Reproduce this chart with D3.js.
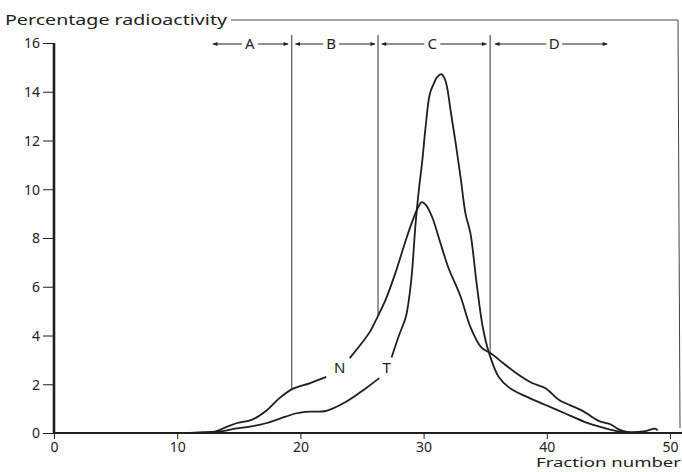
<!DOCTYPE html>
<html>
<head>
<meta charset="utf-8">
<script src="https://cdn.jsdelivr.net/npm/d3@7"></script>
<style>
  body { margin: 0; background: #fff; }
  svg text { font-family: "Noto Sans", "DejaVu Sans", sans-serif; fill: #222; }
</style>
</head>
<body>
<div id="chart"></div>
<script>
// fraction number (x) and percentage radioactivity (y)
// null marks the break in the line where the letter sits
var nFraction = [11, 12, 13.2, 14, 14.8, 16.1, 17.2, 18.3, 19.4, 20.8, 22.1, 23, 24, 25, 25.7, 26.1, 26.9, 27.7, 28.55, 29.1, 29.5, 29.85, 30.2, 30.7, 31.3, 32, 33, 33.8, 34.7, 35.5, 36.5, 37.5, 38.8, 39.9, 41, 42.8, 44.2, 45.2, 45.8, 46.5, 48, 48.8, 49];
var nValue    = [0, 0.02, 0.08, 0.25, 0.4, 0.55, 0.9, 1.43, 1.82, 2.05, 2.3, null, 3.07, 3.7, 4.2, 4.6, 5.45, 6.55, 7.9, 8.7, 9.2, 9.47, 9.35, 8.85, 7.9, 6.8, 5.6, 4.35, 3.5, 3.25, 2.85, 2.46, 2.05, 1.84, 1.35, 0.94, 0.5, 0.35, 0.16, 0.05, 0.08, 0.18, 0.1];

var tFraction = [11, 12.5, 13.7, 14.8, 15.9, 17.2, 18.8, 19.6, 20.4, 22.1, 23.7, 25.3, 26.4, 26.9, 27.4, 28, 28.55, 28.8, 29.05, 29.35, 29.6, 29.9, 30.15, 30.5, 30.8, 31.1, 31.45, 31.7, 31.9, 32.2, 32.6, 33, 33.4, 33.8, 34.3, 34.8, 35.3, 36.1, 37, 38.3, 39.9, 41.5, 43.1, 44.7, 45.5, 46.5];
var tValue    = [0, 0.03, 0.08, 0.19, 0.26, 0.4, 0.67, 0.8, 0.87, 0.91, 1.28, 1.83, 2.25, null, 3.1, 4.0, 4.75, 5.45, 6.55, 8.6, 9.9, 11.2, 12.5, 13.9, 14.3, 14.6, 14.72, 14.55, 14.2, 13.2, 11.9, 10.5, 9.0, 8.2, 6.15, 4.35, 3.3, 2.3, 1.84, 1.5, 1.15, 0.8, 0.45, 0.2, 0.1, 0.03];

// pooled regions A-D (fraction limits) and the dividers between them
var regionLabels = ['A', 'B', 'C', 'D'];
var regionStart  = [12.9, 19.6, 26.6, 35.8];
var regionEnd    = [19.0, 26.05, 35.1, 44.9];
var regionMid    = [15.9, 22.5, 30.7, 40.6];
var dividerAt    = [19.3, 26.3, 35.4];

// curve letters
var curveLabels   = ['N', 'T'];
var curveLabelX   = [23.2, 27.0];
var curveLabelY   = [2.66, 2.66];

var xTicks = [0, 10, 20, 30, 40, 50];
var yTicks = [0, 2, 4, 6, 8, 10, 12, 14, 16];

var width = 682, height = 472;
var ink = '#1f1f1f';
var font = '"Noto Sans", "DejaVu Sans", sans-serif';

var svg = d3.select('#chart').append('svg')
  .attr('width', width)
  .attr('height', height);

var x = d3.scaleLinear().domain([0, 50]).range([54, 670]);
var y = d3.scaleLinear().domain([0, 16]).range([433, 43]);

// interpolate a divider's lower end onto the N curve
function nAt(f) {
  var pts = [];
  for (var i = 0; i < nFraction.length; i++) {
    if (nValue[i] != null) pts.push([nFraction[i], nValue[i]]);
  }
  for (var j = 1; j < pts.length; j++) {
    if (pts[j][0] >= f) {
      var t = (f - pts[j - 1][0]) / (pts[j][0] - pts[j - 1][0]);
      return pts[j - 1][1] + t * (pts[j][1] - pts[j - 1][1]);
    }
  }
  return 0;
}

//////////////// frame: title, top rule and right border ////////////////
// the original lettering is a wide face, so stretch to its measured width
svg.append('text')
  .attr('x', 5)
  .attr('y', 25)
  .attr('textLength', 222)
  .attr('lengthAdjust', 'spacingAndGlyphs')
  .style('font-size', '14px')
  .text('Percentage radioactivity');

svg.append('path')
  .attr('d', 'M231,20 L678,20 L680,428')
  .style('fill', 'none')
  .style('stroke', '#444')
  .style('stroke-width', 1);

//////////////// axes ////////////////
var yAxis = svg.append('g')
  .attr('transform', 'translate(' + x(0) + ',0)')
  .call(d3.axisLeft(y).tickValues(yTicks).tickSize(11).tickPadding(3).tickSizeOuter(0));
yAxis.select('.domain').remove();
yAxis.selectAll('line').style('stroke', ink).style('stroke-width', 1);
yAxis.selectAll('text').style('font-size', '14px').style('font-family', font).attr('dy', '0.35em');

var xAxis = svg.append('g')
  .attr('transform', 'translate(0,' + y(0) + ')')
  .call(d3.axisBottom(x).tickValues(xTicks).tickSize(6).tickPadding(3).tickSizeOuter(0));
xAxis.select('.domain').remove();
xAxis.selectAll('line').style('stroke', ink).style('stroke-width', 1);
xAxis.selectAll('text').style('font-size', '14px').style('font-family', font);

// thick axis lines drawn by hand over the ticks
svg.append('line')
  .attr('x1', x(0)).attr('x2', x(0))
  .attr('y1', y(16)).attr('y2', y(0))
  .style('stroke', ink).style('stroke-width', 2.6);
svg.append('line')
  .attr('x1', x(0)).attr('x2', width)
  .attr('y1', y(0)).attr('y2', y(0))
  .style('stroke', ink).style('stroke-width', 2.2);

svg.append('text')
  .attr('x', 536)
  .attr('y', 467)
  .attr('textLength', 145)
  .attr('lengthAdjust', 'spacingAndGlyphs')
  .style('font-size', '13px')
  .text('Fraction number');

//////////////// dividers and region arrows ////////////////
svg.selectAll('.divider')
  .data(dividerAt)
  .enter()
  .append('line')
  .attr('class', 'divider')
  .attr('x1', function(d) { return x(d); })
  .attr('x2', function(d) { return x(d); })
  .attr('y1', 35)
  .attr('y2', function(d) { return y(nAt(d)); })
  .style('stroke', '#333')
  .style('stroke-width', 1);

var defs = svg.append('defs');
defs.append('marker')
  .attr('id', 'head')
  .attr('viewBox', '0 0 10 10')
  .attr('refX', 9).attr('refY', 5)
  .attr('markerWidth', 6).attr('markerHeight', 5)
  .attr('orient', 'auto-start-reverse')
  .attr('markerUnits', 'userSpaceOnUse')
  .append('path')
  .attr('d', 'M0,1 L10,5 L0,9 Z')
  .style('fill', ink);

var regions = svg.selectAll('.region')
  .data(regionLabels)
  .enter()
  .append('g')
  .attr('class', 'region');

regions.append('line')
  .attr('x1', function(d, i) { return x(regionMid[i]) - 8; })
  .attr('x2', function(d, i) { return x(regionStart[i]); })
  .attr('y1', 44).attr('y2', 44)
  .attr('marker-end', 'url(#head)')
  .style('stroke', ink).style('stroke-width', 1);

regions.append('line')
  .attr('x1', function(d, i) { return x(regionMid[i]) + 8; })
  .attr('x2', function(d, i) { return x(regionEnd[i]); })
  .attr('y1', 44).attr('y2', 44)
  .attr('marker-end', 'url(#head)')
  .style('stroke', ink).style('stroke-width', 1);

regions.append('text')
  .attr('x', function(d, i) { return x(regionMid[i]); })
  .attr('y', 49)
  .attr('text-anchor', 'middle')
  .style('font-size', '15px')
  .text(function(d) { return d; });

//////////////// the two elution curves ////////////////
var line = d3.line()
  .defined(function(d) { return d[1] != null; })
  .x(function(d) { return x(d[0]); })
  .y(function(d) { return y(d[1]); })
  .curve(d3.curveCatmullRom.alpha(0.5));

var nData = nFraction.map(function(f, i) { return [f, nValue[i]]; });
var tData = tFraction.map(function(f, i) { return [f, tValue[i]]; });

svg.selectAll('.curve')
  .data([nData, tData])
  .enter()
  .append('path')
  .attr('class', 'curve')
  .attr('d', line)
  .style('fill', 'none')
  .style('stroke', ink)
  .style('stroke-width', 1.8)
  .style('stroke-linejoin', 'round');

svg.selectAll('.curveLabel')
  .data(curveLabels)
  .enter()
  .append('text')
  .attr('class', 'curveLabel')
  .attr('x', function(d, i) { return x(curveLabelX[i]); })
  .attr('y', function(d, i) { return y(curveLabelY[i]) + 5; })
  .attr('text-anchor', 'middle')
  .style('font-size', '15px')
  .text(function(d) { return d; });
</script>
</body>
</html>
